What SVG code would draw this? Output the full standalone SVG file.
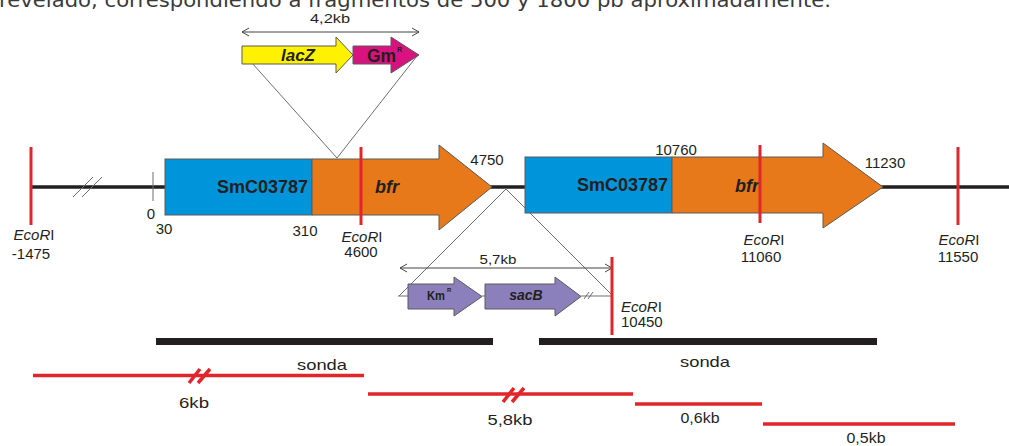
<svg xmlns="http://www.w3.org/2000/svg" width="1009" height="446" viewBox="0 0 1009 446">
<style>
.lbl{font-family:"Liberation Sans",Arial,sans-serif;font-size:15px;fill:#231f20}
.gene{font-family:"Liberation Sans",Arial,sans-serif;font-weight:bold;fill:#231f20}
.thin{stroke:#6d6e70;stroke-width:1;fill:none}
.dim{stroke:#444;stroke-width:1;fill:none}
.red{stroke:#e1262b;stroke-width:3;fill:none}
.redb{stroke:#e1262b;stroke-width:3.5;fill:none}
.blk{stroke:#231f20;stroke-width:3.5;fill:none}
.box{stroke:#5a5a5a;stroke-width:1}
</style>
<rect width="1009" height="446" fill="#ffffff"/>
<text x="-1" y="7" textLength="832" lengthAdjust="spacingAndGlyphs" style="font-family:'DejaVu Sans',sans-serif;font-size:19px;fill:#3a3a3a">revelado, correspondiendo a fragmentos de 500 y 1800 pb aproximadamente.</text>

<g id="connectors">
  <line class="blk" x1="31" y1="187" x2="165" y2="187"/>
  <line class="blk" x1="490" y1="187" x2="525" y2="187"/>
  <line class="blk" x1="880" y1="187" x2="1009" y2="187"/>
  <line class="thin" x1="73" y1="197" x2="93" y2="177"/>
  <line class="thin" x1="82" y1="197" x2="102" y2="177"/>
  <line class="thin" x1="153" y1="172" x2="153" y2="201"/>
  <line class="thin" x1="252" y1="63" x2="337" y2="158"/>
  <line class="thin" x1="417" y1="56" x2="337" y2="158"/>
  <line class="thin" x1="507" y1="188" x2="399" y2="296"/>
  <line class="thin" x1="505" y1="188" x2="612" y2="295"/>
  <line class="thin" x1="398" y1="296" x2="408" y2="296"/>
  <line class="thin" x1="482" y1="296" x2="485" y2="296"/>
  <line class="thin" x1="581" y1="296" x2="612" y2="296"/>
  <line class="thin" x1="584" y1="299" x2="589" y2="292"/>
  <line class="thin" x1="588" y1="299" x2="593" y2="292"/>
  <path class="dim" d="M242,32 H419 M249,28 L242,32 L249,36 M412,28 L419,32 L412,36"/>
  <path class="dim" d="M400,268 H612 M407,264 L400,268 L407,272 M605,264 L612,268 L605,272"/>
</g>

<g id="insert-lacZ">
  <polygon class="box" fill="#fff200" points="242,46 336,46 336,37 353,55 336,73 336,64 242,64"/>
  <text class="gene" x="298" y="61" text-anchor="middle" font-size="17" font-style="italic">lacZ</text>
</g>
<g id="insert-Gm">
  <polygon class="box" fill="#d8137f" points="353,46 391,46 391,37 419,55 391,73 391,64 353,64"/>
  <text class="gene" x="367" y="62" font-size="18" textLength="29" lengthAdjust="spacingAndGlyphs">Gm</text>
  <text class="gene" x="397" y="52" font-size="7">R</text>
</g>

<g id="SmC03787-1">
  <rect class="box" x="165" y="159" width="147" height="56" fill="#0095da"/>
  <text class="gene" x="308" y="193" text-anchor="end" font-size="18">SmC03787</text>
</g>
<g id="bfr-1">
  <polygon class="box" fill="#e7791b" points="312,159 439,159 439,145 492,187 439,230 439,215 312,215"/>
  <text class="gene" x="375" y="193" font-size="18" font-style="italic">bfr</text>
</g>
<g id="SmC03787-2">
  <rect class="box" x="525" y="157" width="147" height="56" fill="#0095da"/>
  <text class="gene" x="668" y="191" text-anchor="end" font-size="18">SmC03787</text>
</g>
<g id="bfr-2">
  <polygon class="box" fill="#e7791b" points="672,157 823,157 823,143 883,187 823,228 823,213 672,213"/>
  <text class="gene" x="735" y="192" font-size="18" font-style="italic">bfr</text>
</g>

<g id="EcoRI-sites">
  <line class="red" x1="31" y1="147" x2="31" y2="225"/>
  <line class="red" x1="361" y1="147" x2="361" y2="225"/>
  <line class="red" x1="760" y1="145" x2="760" y2="223"/>
  <line class="red" x1="958" y1="147" x2="958" y2="225"/>
  <line class="red" x1="612" y1="257" x2="612" y2="335"/>
</g>

<g id="insert-Km">
  <polygon class="box" fill="#8b80bb" points="408,284 454,284 454,277 482,296.5 454,316 454,309 408,309"/>
  <text class="gene" x="427" y="300" font-size="13" textLength="18" lengthAdjust="spacingAndGlyphs">Km</text>
  <text class="gene" x="447" y="292" font-size="6">R</text>
</g>
<g id="insert-sacB">
  <polygon class="box" fill="#8b80bb" points="485,284 555,284 555,277 581,296.5 555,316 555,309 485,309"/>
  <text class="gene" x="526" y="300" text-anchor="middle" font-size="14" font-style="italic">sacB</text>
</g>

<g id="labels" class="lbl">
  <text x="330" y="23" text-anchor="middle" font-size="13" textLength="40" lengthAdjust="spacingAndGlyphs">4,2kb</text>
  <text x="498" y="264" text-anchor="middle" font-size="13" textLength="37" lengthAdjust="spacingAndGlyphs">5,7kb</text>
  <text x="151" y="219" text-anchor="middle">0</text>
  <text x="164" y="234" text-anchor="middle">30</text>
  <text x="305" y="236" text-anchor="middle">310</text>
  <text x="34" y="240" text-anchor="middle"><tspan font-style="italic">EcoR</tspan>I</text>
  <text x="31" y="259" text-anchor="middle">-1475</text>
  <text x="362" y="242" text-anchor="middle"><tspan font-style="italic">EcoR</tspan>I</text>
  <text x="361" y="257" text-anchor="middle">4600</text>
  <text x="487" y="165" text-anchor="middle">4750</text>
  <text x="676" y="155" text-anchor="middle">10760</text>
  <text x="885" y="168" text-anchor="middle">11230</text>
  <text x="764" y="245" text-anchor="middle"><tspan font-style="italic">EcoR</tspan>I</text>
  <text x="761" y="262" text-anchor="middle">11060</text>
  <text x="959" y="245" text-anchor="middle"><tspan font-style="italic">EcoR</tspan>I</text>
  <text x="958" y="262" text-anchor="middle">11550</text>
  <text x="621" y="312"><tspan font-style="italic">EcoR</tspan>I</text>
  <text x="621" y="327">10450</text>
</g>

<g id="probes">
  <rect x="156" y="338" width="337" height="7" fill="#231f20"/>
  <rect x="539" y="338" width="338" height="7" fill="#231f20"/>
  <text class="lbl" x="322" y="370" text-anchor="middle" font-size="16" textLength="50" lengthAdjust="spacingAndGlyphs">sonda</text>
  <text class="lbl" x="705" y="367" text-anchor="middle" font-size="16" textLength="50" lengthAdjust="spacingAndGlyphs">sonda</text>
</g>

<g id="fragments">
  <line class="redb" x1="33" y1="375.5" x2="364" y2="375.5"/>
  <line class="redb" x1="189" y1="383" x2="200" y2="369"/>
  <line class="redb" x1="198" y1="383" x2="210" y2="369"/>
  <line class="redb" x1="368" y1="394" x2="633" y2="394"/>
  <line class="redb" x1="503" y1="402" x2="514" y2="388"/>
  <line class="redb" x1="512" y1="402" x2="524" y2="388"/>
  <line class="redb" x1="635" y1="404" x2="762" y2="404"/>
  <line class="redb" x1="763" y1="424" x2="955" y2="424"/>
  <text class="lbl" x="194" y="408" text-anchor="middle" font-size="16" textLength="30" lengthAdjust="spacingAndGlyphs">6kb</text>
  <text class="lbl" x="510" y="425" text-anchor="middle" font-size="16" textLength="45" lengthAdjust="spacingAndGlyphs">5,8kb</text>
  <text class="lbl" x="700" y="423" text-anchor="middle" font-size="15" textLength="39" lengthAdjust="spacingAndGlyphs">0,6kb</text>
  <text class="lbl" x="866" y="443" text-anchor="middle" font-size="15" textLength="39" lengthAdjust="spacingAndGlyphs">0,5kb</text>
</g>
</svg>
